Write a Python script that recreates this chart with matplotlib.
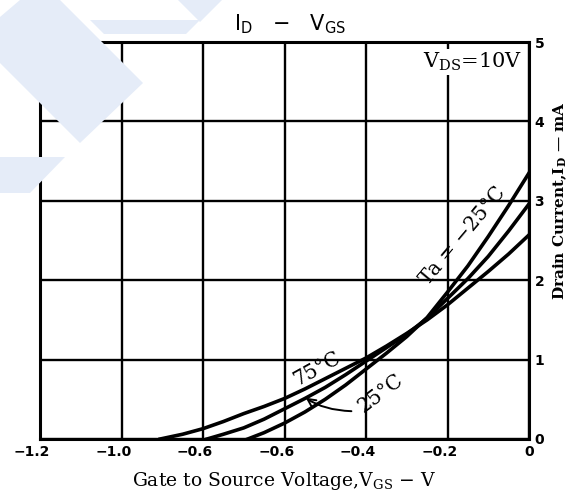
import matplotlib
matplotlib.use("Agg")
import matplotlib.pyplot as plt
from matplotlib.patches import Polygon
from matplotlib.transforms import ScaledTranslation

# curves (VGS in V, ID in mA)
vgs_m25 = [-0.69, -0.65, -0.60, -0.55, -0.50, -0.45, -0.40, -0.35, -0.30, -0.25, -0.20, -0.15, -0.10, -0.05, 0.0]
id_m25 = [0.0, 0.08, 0.20, 0.34, 0.50, 0.68, 0.88, 1.08, 1.29, 1.53, 1.85, 2.18, 2.55, 2.94, 3.35]

vgs_25 = [-0.79, -0.75, -0.70, -0.65, -0.60, -0.55, -0.50, -0.45, -0.40, -0.35, -0.30, -0.25, -0.20, -0.15, -0.10, -0.05, 0.0]
id_25 = [0.0, 0.06, 0.14, 0.25, 0.38, 0.51, 0.65, 0.81, 0.98, 1.15, 1.32, 1.52, 1.77, 2.02, 2.30, 2.62, 2.96]

vgs_75 = [-0.905, -0.85, -0.80, -0.75, -0.70, -0.65, -0.60, -0.55, -0.50, -0.45, -0.40, -0.35, -0.30, -0.25, -0.20, -0.15, -0.10, -0.05, 0.0]
id_75 = [0.0, 0.06, 0.13, 0.22, 0.32, 0.41, 0.51, 0.63, 0.76, 0.89, 1.02, 1.17, 1.33, 1.50, 1.69, 1.90, 2.11, 2.33, 2.57]

xticks = [-1.2, -1.0, -0.8, -0.6, -0.4, -0.2, 0.0]
xtick_labels = ["\u22121.2", "\u22121.0", "\u22120.6", "\u22120.6", "\u22120.4", "\u22120.2", "0"]
yticks = [0, 1, 2, 3, 4, 5]
ytick_labels = ["0", "1", "2", "3", "4", "5"]

W, H = 574, 495
fig = plt.figure(figsize=(W / 100, H / 100), dpi=100)
fig.patch.set_facecolor("white")

# faint watermark stripes behind the chart (pixel coords, origin top-left)
wm = "#e5ecf8"
shapes = [
    [(20, 0), (60, 0), (143, 83), (80, 143), (0, 63), (0, 17)],
    [(90, 20), (200, 20), (186, 34), (104, 34)],
    [(178, 0), (222, 0), (200, 22)],
    [(0, 157), (65, 157), (30, 193), (0, 193)],
]
for s in shapes:
    pts = [(x / W, 1 - y / H) for x, y in s]
    fig.patches.append(Polygon(pts, closed=True, facecolor=wm, edgecolor="none",
                               transform=fig.transFigure, zorder=0))

ax = fig.add_axes([40 / W, 1 - 439 / H, 489 / W, 397 / H])
ax.set_facecolor("none")

ax.plot(vgs_m25, id_m25, color="black", lw=2.6, zorder=3)
ax.plot(vgs_25, id_25, color="black", lw=2.6, zorder=3)
ax.plot(vgs_75, id_75, color="black", lw=2.6, zorder=3)

ax.set_xlim(-1.2, 0)
ax.set_ylim(0, 5)
ax.set_xticks(xticks)
ax.set_yticks(yticks)
ax.grid(True, color="black", lw=1.7)
ax.set_axisbelow(True)
for sp in ax.spines.values():
    sp.set_linewidth(2.2)

ax.set_xticklabels(xtick_labels, fontsize=10, fontweight="bold")
ax.tick_params(axis="x", length=0, pad=4)
for i, lab in enumerate(ax.get_xticklabels()):
    if i < len(xticks) - 1:
        lab.set_transform(lab.get_transform() + ScaledTranslation(-6 / 72, 0, fig.dpi_scale_trans))

ax.yaxis.tick_right()
ax.set_yticklabels(ytick_labels, fontsize=10, fontweight="bold")
ax.tick_params(axis="y", length=0, pad=4)

ax.set_xlabel("Gate to Source Voltage,V$_\\mathregular{GS}$ \u2212 V", family="DejaVu Serif",
              fontsize=13.5, labelpad=8)
ax.yaxis.set_label_position("right")
ax.set_ylabel("Drain Current,I$_\\mathregular{D}$ \u2014 mA", family="DejaVu Serif",
              fontsize=11, fontweight="bold")
ax.yaxis.set_label_coords(1.045, 0.60)

fig.text(290 / W, 1 - 24 / H, "I$_\\mathregular{D}$   \u2212   V$_\\mathregular{GS}$",
         ha="center", va="center", fontsize=15)

ax.text(-0.016, 4.75, "V$_\\mathregular{DS}$=10V", ha="right", va="center",
        family="DejaVu Serif", fontsize=15,
        bbox=dict(facecolor="white", edgecolor="none", pad=1), zorder=4)

ax.text(-0.162, 2.56, "Ta = \u221225\u00b0C", family="DejaVu Serif", fontsize=14.5,
        rotation=50, rotation_mode="anchor", ha="center", va="center", zorder=4)
ax.text(-0.52, 0.88, "75\u00b0C", family="DejaVu Serif", fontsize=14.5,
        rotation=29, rotation_mode="anchor", ha="center", va="center", zorder=4)
ax.annotate("25\u00b0C", xy=(-0.548, 0.52), xytext=(-0.365, 0.58),
            family="DejaVu Serif", fontsize=14.5, rotation=37, rotation_mode="anchor",
            ha="center", va="center", zorder=4,
            arrowprops=dict(arrowstyle="->", color="black", lw=1.4, relpos=(0.05, 0.1),
                            connectionstyle="angle3,angleA=0,angleB=-35",
                            shrinkA=0, shrinkB=0))

fig.savefig("out.png", dpi=100)
